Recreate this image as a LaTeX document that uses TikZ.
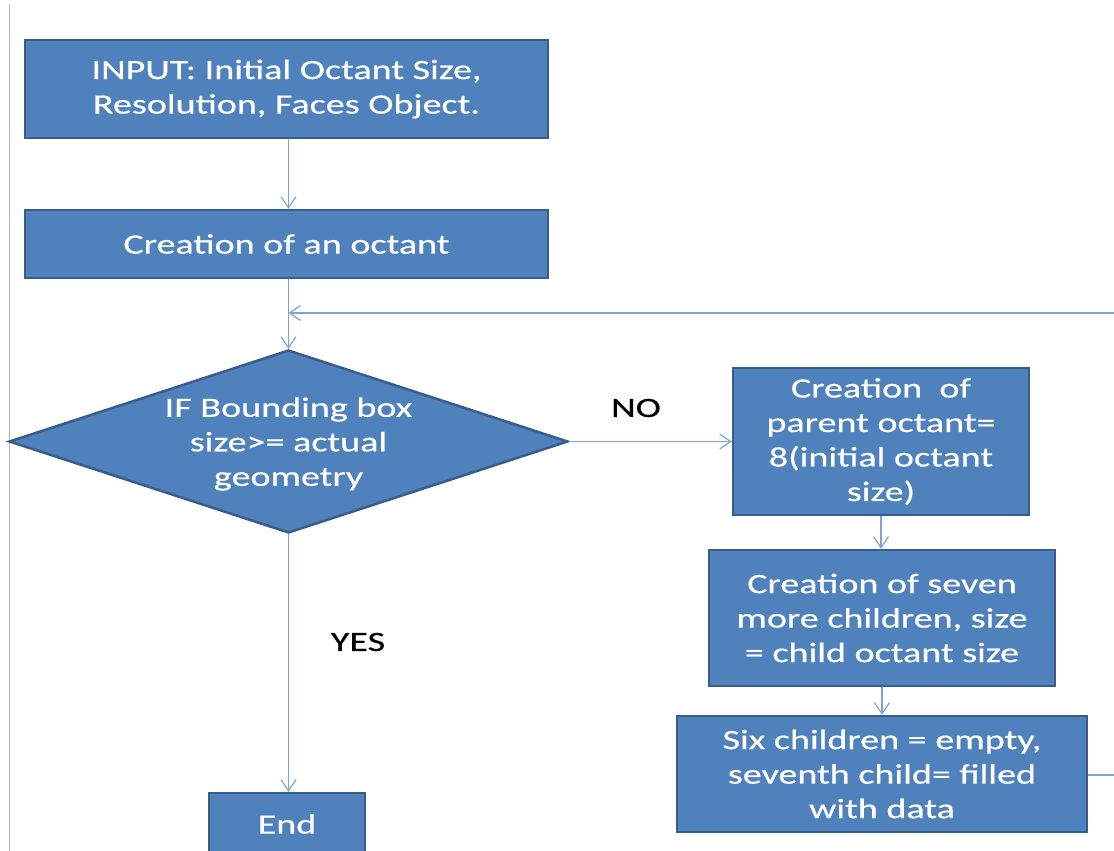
\documentclass[tikz,border=0pt]{standalone}
\usepackage{fontspec}
\setmainfont{Carlito}[FakeStretch=1.36,FakeBold=0.5]
\usetikzlibrary{shapes.geometric,arrows.meta}
\definecolor{boxfill}{HTML}{4F81BD}
\definecolor{boxline}{HTML}{385D8A}
\definecolor{connc}{HTML}{7BA3D8}
\definecolor{edgec}{HTML}{B4B8C4}
\begin{document}
\begin{tikzpicture}[x=1pt,y=-1pt,
  box/.style={draw=boxline,fill=boxfill,line width=2.5pt,rectangle,inner sep=0pt,
    text=white,align=center,font=\fontsize{28}{34.5}\selectfont},
  dia/.style={draw=boxline,fill=boxfill,line width=2.5pt,diamond,inner sep=0pt},
  txt/.style={text=white,align=center,font=\fontsize{28}{34.5}\selectfont},
  lbl/.style={text=black,font=\fontsize{28}{34.5}\selectfont},
  conn/.style={draw=connc,line width=1.3pt},
  arr/.style={conn,-{Straight Barb[length=11pt,width=15pt,line width=1.2pt]}},
]
\useasboundingbox (0,0) rectangle (1114,851);
\draw[edgec,line width=1pt] (9,4) -- (9,851);

\node[box,minimum width=523pt,minimum height=98pt] (b1) at (286.5,89)
  {INPUT: Initial Octant Size,\\Resolution, Faces Object.};
\node[box,minimum width=523pt,minimum height=68pt] (b2) at (286.5,244)
  {Creation of an octant};
\node[dia,minimum width=559pt,minimum height=183pt] (d) at (288.5,441.5) {};
\node[txt] (dt) at (288.5,444) {IF Bounding box\\size>= actual\\geometry};
\node[box,minimum width=296pt,minimum height=147pt] (b3) at (881,441.5)
  {Creation~ of\\parent octant=\\8(initial octant\\size)};
\node[box,minimum width=346pt,minimum height=136pt] (b4) at (882,618)
  {Creation of seven\\more children, size\\= child octant size};
\node[box,minimum width=410pt,minimum height=116pt] (b5) at (882,774)
  {Six children = empty,\\seventh child= filled\\with data};
\node[box,minimum width=156pt,minimum height=62pt] (e) at (287,824) {End};

\node[lbl] (no) at (636,408) {NO};
\node[lbl] (yes) at (358,642) {YES};

\coordinate (r1) at (1114,313);
\coordinate (r2) at (1114,775);
\coordinate (j) at (288.5,313);

\draw[arr] (d.north |- b1.south) -- (d.north |- b2.north);
\draw[arr] (d.north |- b2.south) -- (d.north);
\draw[arr] (r1) -- (j);
\draw[arr] (d.east) -- (b3.west);
\draw[arr] (b3.south) -- (b3.south |- b4.north);
\draw[arr] (b4.south) -- (b5.north);
\draw[conn] (b5.east |- r2) -- (r2);
\draw[arr] (d.south) -- (d.south |- e.north);
\end{tikzpicture}
\end{document}
